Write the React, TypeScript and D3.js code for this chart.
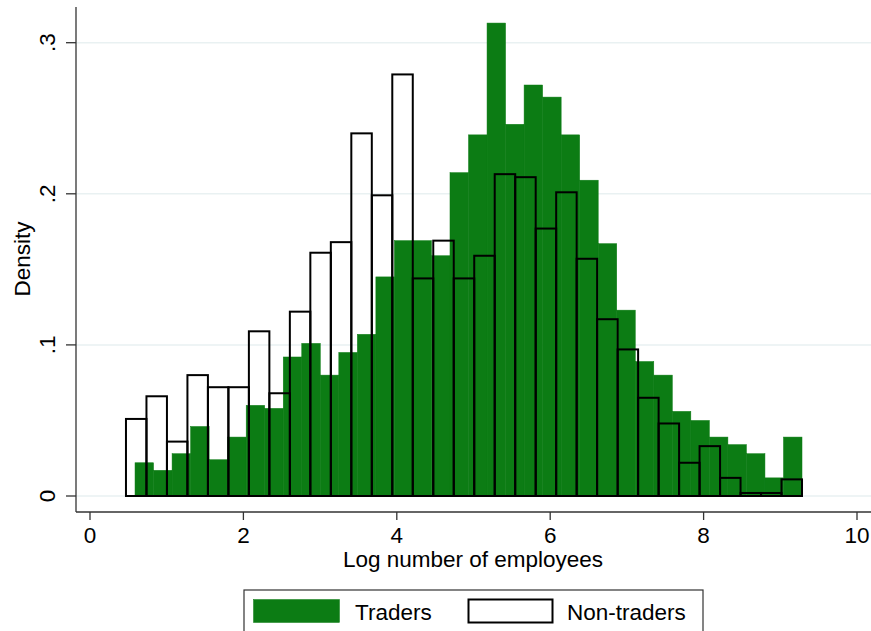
import React from 'react';
import * as d3 from 'd3';

// histogram densities
const traderDensity = [
  0.022, 0.017, 0.028, 0.046, 0.024, 0.039, 0.060, 0.058, 0.092, 0.101,
  0.080, 0.095, 0.107, 0.145, 0.169, 0.169, 0.159, 0.214, 0.239, 0.313,
  0.246, 0.272, 0.264, 0.239, 0.209, 0.167, 0.123, 0.089, 0.080, 0.056,
  0.050, 0.039, 0.034, 0.028, 0.012, 0.039,
];
const nonTraderDensity = [
  0.051, 0.066, 0.036, 0.080, 0.072, 0.072, 0.109, 0.068, 0.122, 0.161,
  0.168, 0.240, 0.199, 0.279, 0.144, 0.169, 0.144, 0.159, 0.213, 0.211,
  0.177, 0.201, 0.157, 0.117, 0.097, 0.065, 0.048, 0.022, 0.033, 0.012,
  0.002, 0.002, 0.011,
];
const traderRange = [0.587, 9.283];
const nonTraderRange = [0.469, 9.283];

const xTicks = [0, 2, 4, 6, 8, 10];
const yTicks = [0, 0.1, 0.2, 0.3];
const yTickLabels = ['0', '.1', '.2', '.3'];
const legendLabels = ['Traders', 'Non-traders'];

const W = 871, H = 631;
const GREEN = '#0c7c14';
const FONT = '"Liberation Sans", Arial, Helvetica, sans-serif';

function bins(values: number[], range: number[]) {
  const w = (range[1] - range[0]) / values.length;
  return values.map((v, i) => ({ x0: range[0] + i * w, x1: range[0] + (i + 1) * w, v }));
}

export default function App() {
  const x = d3.scaleLinear().domain([0, 10]).range([90, 857]);
  const y = d3.scaleLinear().domain([0, 0.3]).range([496, 42.7]);
  const left = 76, right = 871, top = 7, bottom = 512;

  const traders = bins(traderDensity, traderRange);
  const nonTraders = bins(nonTraderDensity, nonTraderRange);

  return (
    <svg width={W} height={H} style={{ position: 'absolute', left: 0, top: 0, background: '#fff' }}
      fontFamily={FONT}>
      <rect x={0} y={0} width={W} height={H} fill="#fff" />
      {yTicks.map(t => (
        <line key={'g' + t} x1={left} x2={right} y1={y(t)} y2={y(t)} stroke="#e9f1f2" strokeWidth={1.5} />
      ))}
      {traders.map((b, i) => (
        <rect key={'t' + i} x={x(b.x0)} width={x(b.x1) - x(b.x0)} y={y(b.v)} height={y(0) - y(b.v)}
          fill={GREEN} stroke={GREEN} strokeWidth={0.5} />
      ))}
      {nonTraders.map((b, i) => (
        <rect key={'n' + i} x={x(b.x0)} width={x(b.x1) - x(b.x0)} y={y(b.v)} height={y(0) - y(b.v)}
          fill="none" stroke="#000" strokeWidth={2} />
      ))}
      {/* axes */}
      <line x1={left} x2={left} y1={top} y2={bottom} stroke="#333" strokeWidth={1.3} />
      <line x1={left} x2={right} y1={bottom} y2={bottom} stroke="#333" strokeWidth={1.3} />
      {yTicks.map((t, i) => (
        <g key={'yt' + t}>
          <line x1={66} x2={left} y1={y(t)} y2={y(t)} stroke="#333" strokeWidth={1.3} />
          <text transform={`translate(55,${y(t)}) rotate(-90)`} textAnchor="middle" fontSize={22.5} fill="#000">
            {yTickLabels[i]}
          </text>
        </g>
      ))}
      {xTicks.map(t => (
        <g key={'xt' + t}>
          <line x1={x(t)} x2={x(t)} y1={bottom} y2={bottom + 8} stroke="#333" strokeWidth={1.3} />
          <text x={x(t)} y={543} textAnchor="middle" fontSize={22.5} fill="#000">{t}</text>
        </g>
      ))}
      <text transform="translate(30,259) rotate(-90)" textAnchor="middle" fontSize={22.5} fill="#000">Density</text>
      <text x={473} y={567} textAnchor="middle" fontSize={22.5} fill="#000">Log number of employees</text>
      {/* legend */}
      <rect x={244} y={590} width={459} height={60} fill="#fff" stroke="#333" strokeWidth={1.2} />
      <rect x={253.5} y={599.5} width={86} height={23} fill={GREEN} stroke={GREEN} strokeWidth={0.5} />
      <text x={355} y={620} fontSize={22.5} fill="#000">{legendLabels[0]}</text>
      <rect x={468.5} y={599.5} width={84} height={23} fill="none" stroke="#000" strokeWidth={2} />
      <text x={567} y={620} fontSize={22.5} fill="#000">{legendLabels[1]}</text>
    </svg>
  );
}
